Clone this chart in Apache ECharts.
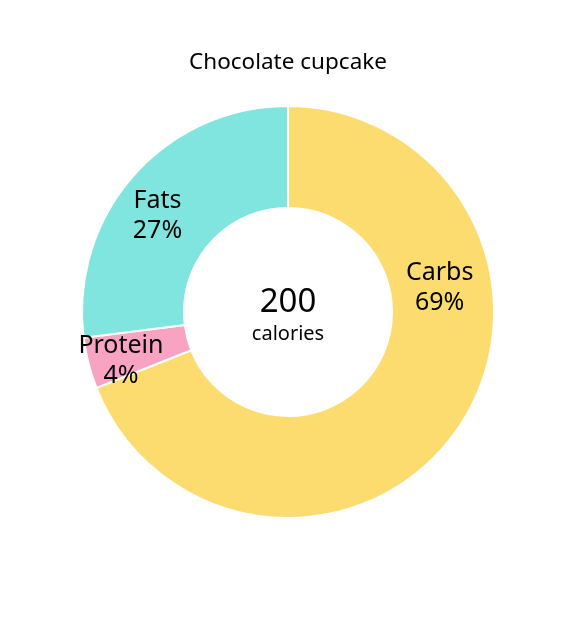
<!DOCTYPE html>
<html><head><meta charset="utf-8">
<script src="https://cdn.jsdelivr.net/npm/echarts@6/dist/echarts.min.js"></script>
<style>html,body{margin:0;padding:0;background:#fff}#c{width:576px;height:624px}</style>
</head><body><div id="c"></div>
<script>
const categories = ['Carbs', 'Protein', 'Fats'];
const percents = [69, 4, 27];
const totalCalories = 200;
const titleText = 'Chocolate cupcake';
const colors = ['#FDDC6F', '#F9A3C3', '#80E5DF'];
// label nudges (px) relative to the library's inside-label position
const labelShift = [[21, -113], [-14, 10], [-12, 8]];

const chart = echarts.init(document.getElementById('c'));
const font = '"Noto Sans", "Open Sans", sans-serif';
chart.setOption({
  animation: false,
  title: [
    { text: titleText, left: 'center', top: 46, textStyle: { fontFamily: font, fontSize: 22.5, fontWeight: 'normal', color: '#000' } },
    { text: String(totalCalories), left: 283, top: 281, textAlign: 'center', textStyle: { fontFamily: font, fontSize: 33, fontWeight: 'normal', color: '#000' } },
    { text: 'calories', left: 283, top: 319, textAlign: 'center', textStyle: { fontFamily: font, fontSize: 20, fontWeight: 'normal', color: '#000' } }
  ],
  series: [{
    type: 'pie',
    center: [288, 312],
    radius: [104, 206],
    startAngle: 90,
    clockwise: true,
    itemStyle: { borderColor: '#fff', borderWidth: 2 },
    emphasis: { disabled: true },
    label: {
      show: true, position: 'inside', fontFamily: font, fontSize: 25, lineHeight: 30, color: '#000',
      formatter: p => p.name + '\n' + p.value + '%'
    },
    labelLine: { show: false },
    labelLayout: p => ({ dx: labelShift[p.dataIndex][0], dy: labelShift[p.dataIndex][1] }),
    data: categories.map((c, i) => ({ name: c, value: percents[i], itemStyle: { color: colors[i] } }))
  }]
});
</script></body></html>
